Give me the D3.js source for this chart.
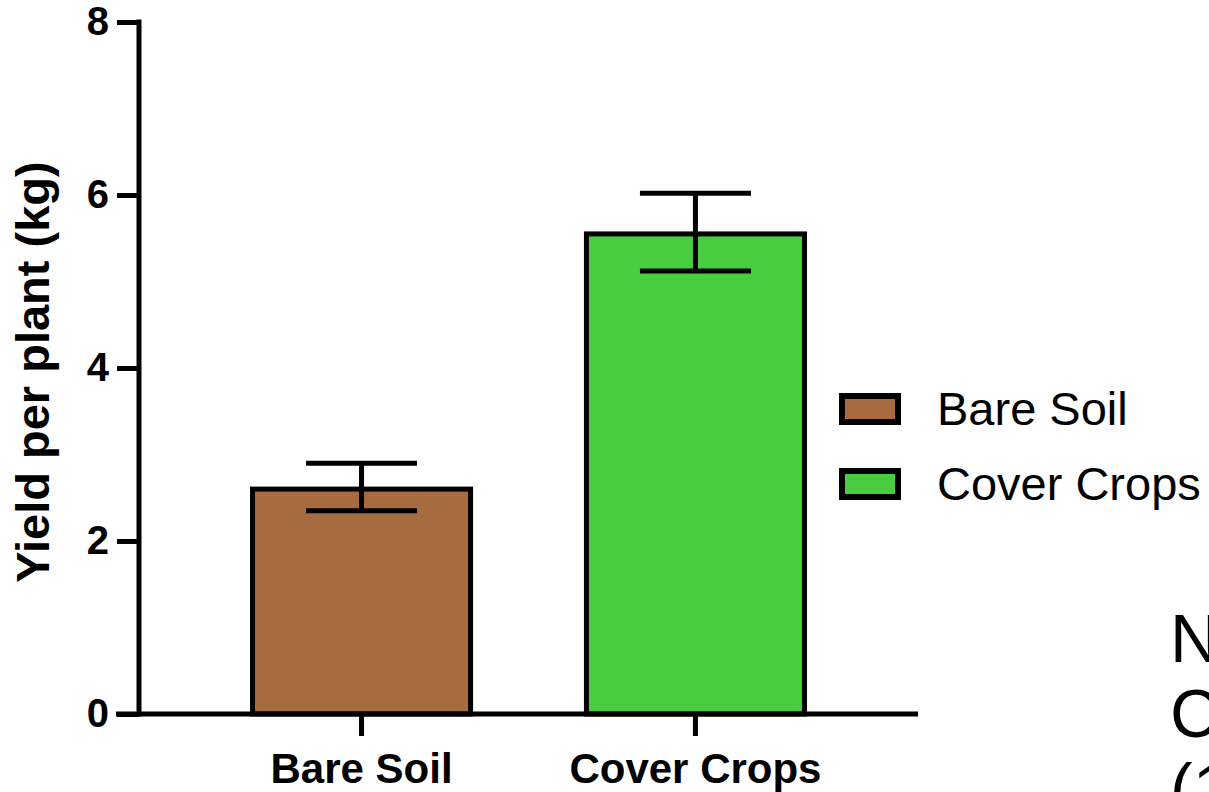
<!DOCTYPE html>
<html>
<head>
<meta charset="utf-8">
<script src="https://cdn.jsdelivr.net/npm/d3@7"></script>
<style>
  body { margin: 0; background: #fff; }
  svg { display: block; }
</style>
</head>
<body>
<div class="canvas"></div>
<script>
// data
const groups = ['Bare Soil', 'Cover Crops'];
const means = [2.6, 5.55];
const errLow = [2.35, 5.12];
const errHigh = [2.9, 6.02];
const colours = ['#a66b3e', '#48cc40'];
const yTicks = [0, 2, 4, 6, 8];
const noteLines = ['N', 'C', '(1'];

const dims = {width: 1209, height: 792};
const font = 'Arial, "Liberation Sans", sans-serif';
const sw = 5;

const svg = d3.select('.canvas')
  .append('svg')
    .attr('width', dims.width)
    .attr('height', dims.height);

const y = d3.scaleLinear().domain([0, 8]).range([714, 22]);
const x = d3.scaleBand()
  .domain(groups)
  .range([139, 918])
  .paddingInner(0.347)
  .paddingOuter(0.34);

const col = d3.scaleOrdinal().domain(groups).range(colours);

// bars
svg.selectAll('rect.bar')
  .data(groups)
  .enter()
  .append('rect')
    .attr('class', 'bar')
    .attr('x', d => x(d))
    .attr('y', (d, i) => y(means[i]))
    .attr('width', x.bandwidth())
    .attr('height', (d, i) => y(0) - y(means[i]))
    .attr('fill', d => col(d))
    .attr('stroke', '#000')
    .attr('stroke-width', sw);

// error bars
const capW = 111;
const err = svg.append('g').attr('stroke', '#000').attr('stroke-width', sw);
groups.forEach((g, i) => {
  const cx = x(g) + x.bandwidth() / 2;
  err.append('line')
    .attr('x1', cx).attr('x2', cx)
    .attr('y1', y(errHigh[i])).attr('y2', y(errLow[i]));
  [errHigh[i], errLow[i]].forEach(v => {
    err.append('line')
      .attr('x1', cx - capW / 2).attr('x2', cx + capW / 2)
      .attr('y1', y(v)).attr('y2', y(v));
  });
});

// y axis
const yAxis = svg.append('g')
  .attr('transform', 'translate(139,0)')
  .call(d3.axisLeft(y).tickValues(yTicks).tickSize(22).tickPadding(8).tickFormat(d3.format('d')));
yAxis.select('.domain').remove();
yAxis.selectAll('.tick line').attr('stroke', '#000').attr('stroke-width', sw);
yAxis.selectAll('.tick text')
  .attr('fill', '#000')
  .style('font-family', font)
  .style('font-weight', 'bold')
  .style('font-size', '40px');
svg.append('line')
  .attr('x1', 139).attr('x2', 139)
  .attr('y1', y(8) - 2.5).attr('y2', y(0) + 2.5)
  .attr('stroke', '#000').attr('stroke-width', sw);

// x axis
const xAxis = svg.append('g')
  .attr('transform', `translate(0,${y(0)})`)
  .call(d3.axisBottom(x).tickSize(22).tickPadding(17));
xAxis.select('.domain').remove();
xAxis.selectAll('.tick line').attr('stroke', '#000').attr('stroke-width', sw);
xAxis.selectAll('.tick text')
  .attr('fill', '#000')
  .style('font-family', font)
  .style('font-weight', 'bold')
  .style('font-size', '42px');
svg.append('line')
  .attr('x1', 116).attr('x2', 918)
  .attr('y1', y(0)).attr('y2', y(0))
  .attr('stroke', '#000').attr('stroke-width', sw);

// y title
svg.append('text')
  .attr('transform', 'translate(49,372) rotate(-90)')
  .attr('text-anchor', 'middle')
  .style('font-family', font)
  .style('font-weight', 'bold')
  .style('font-size', '47px')
  .text('Yield per plant (kg)');

// legend
const legend = svg.append('g').attr('transform', 'translate(842,409)');
groups.forEach((g, i) => {
  const row = legend.append('g').attr('transform', `translate(0,${i * 75})`);
  row.append('rect')
    .attr('x', 0).attr('y', -13)
    .attr('width', 56).attr('height', 26)
    .attr('fill', col(g))
    .attr('stroke', '#000')
    .attr('stroke-width', 6);
  row.append('text')
    .attr('x', 95).attr('y', 16)
    .style('font-family', font)
    .style('font-size', '47px')
    .text(g);
});

// note text, cut off by the right edge
svg.append('g')
  .selectAll('text')
  .data(noteLines)
  .enter()
  .append('text')
    .attr('x', 1170)
    .attr('y', (d, i) => 662 + i * 75)
    .style('font-family', font)
    .style('font-size', '68px')
    .text(d => d);
</script>
</body>
</html>
